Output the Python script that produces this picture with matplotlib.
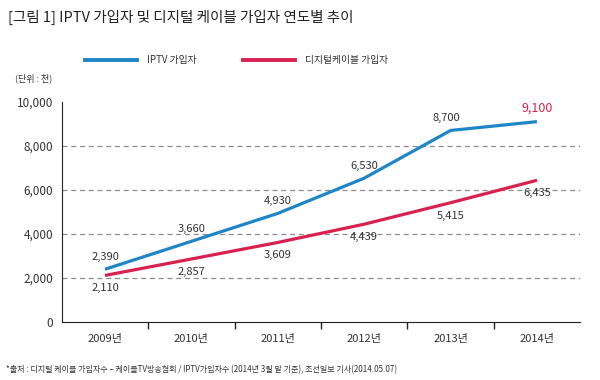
import matplotlib
matplotlib.use("Agg")
import matplotlib.pyplot as plt

plt.rcParams['font.family'] = ['Noto Sans CJK KR', 'DejaVu Sans']

years = ["2009년", "2010년", "2011년", "2012년", "2013년", "2014년"]
iptv = [2390, 3660, 4930, 6530, 8700, 9100]
cable = [2110, 2857, 3609, 4439, 5415, 6435]

blue = "#1e86c6"
red = "#d9214f"
text_c = "#333333"

fig = plt.figure(figsize=(6, 3.8), dpi=100)
ax = fig.add_axes([0.103, 0.153, 0.864, 0.579])

x = list(range(len(years)))
ax.plot(x, iptv, color=blue, lw=2.3, solid_capstyle="butt", zorder=3)
ax.plot(x, cable, color=red, lw=2.3, solid_capstyle="butt", zorder=3)

# data labels: IPTV above, cable below
for i, v in enumerate(iptv):
    c = red if i == len(iptv) - 1 else text_c
    dx = -4 if i == 4 else 0
    ax.annotate(f"{v:,}", (i, v), xytext=(dx, 7), textcoords="offset pixels",
                ha="center", va="bottom", fontsize=8 if i < 5 else 9,
                color=c, zorder=4)
for i, v in enumerate(cable):
    ax.annotate(f"{v:,}", (i, v), xytext=(0, -8), textcoords="offset pixels",
                ha="center", va="top", fontsize=8, color=text_c, zorder=4)

ax.set_xlim(-0.5, len(years) - 0.5)
ax.set_ylim(0, 10000)
ax.set_yticks(range(0, 10001, 2000))
ax.set_yticklabels([f"{t:,}" for t in range(0, 10001, 2000)], fontsize=8.5, color=text_c)
for t in range(2000, 10000, 2000):
    ax.axhline(t, color="#8c8c8c", lw=0.9, ls=(0, (4, 3)), zorder=1)

ax.set_xticks(x)
ax.set_xticklabels(years, fontsize=8, color=text_c)
ax.set_xticks([i + 0.5 for i in x[:-1]], minor=True)
ax.tick_params(axis="x", which="major", length=0, pad=9)
ax.tick_params(axis="x", which="minor", length=5, width=1, color="#222222", direction="out")
ax.tick_params(axis="y", length=0, pad=6)

for s in ["top", "right"]:
    ax.spines[s].set_visible(False)
ax.spines["left"].set_color("#222222")
ax.spines["bottom"].set_color("#222222")

# title, legend, unit, source
fig.text(0.013, 0.955, "[그림 1] IPTV 가입자 및 디지털 케이블 가입자 연도별 추이",
         fontsize=10.5, color="#222222", va="center", ha="left", fontweight="medium")
fig.lines.append(plt.Line2D([0.142, 0.228], [0.842, 0.842], color=blue, lw=2.8,
                            transform=fig.transFigure))
fig.text(0.245, 0.842, "IPTV 가입자", fontsize=7, color=text_c, va="center")
fig.lines.append(plt.Line2D([0.405, 0.492], [0.842, 0.842], color=red, lw=2.8,
                            transform=fig.transFigure))
fig.text(0.508, 0.842, "디지털케이블 가입자", fontsize=7, color=text_c, va="center")
fig.text(0.025, 0.795, "(단위 : 천)", fontsize=6.5, color=text_c, va="center")
fig.text(0.01, 0.027,
         "*출처 : 디지털 케이블 가입자수 – 케이블TV방송협회 / IPTV가입자수 (2014년 3월 말 기준), 조선일보 기사(2014.05.07)",
         fontsize=5.8, color=text_c, va="center")

fig.savefig("out.png", dpi=100)
